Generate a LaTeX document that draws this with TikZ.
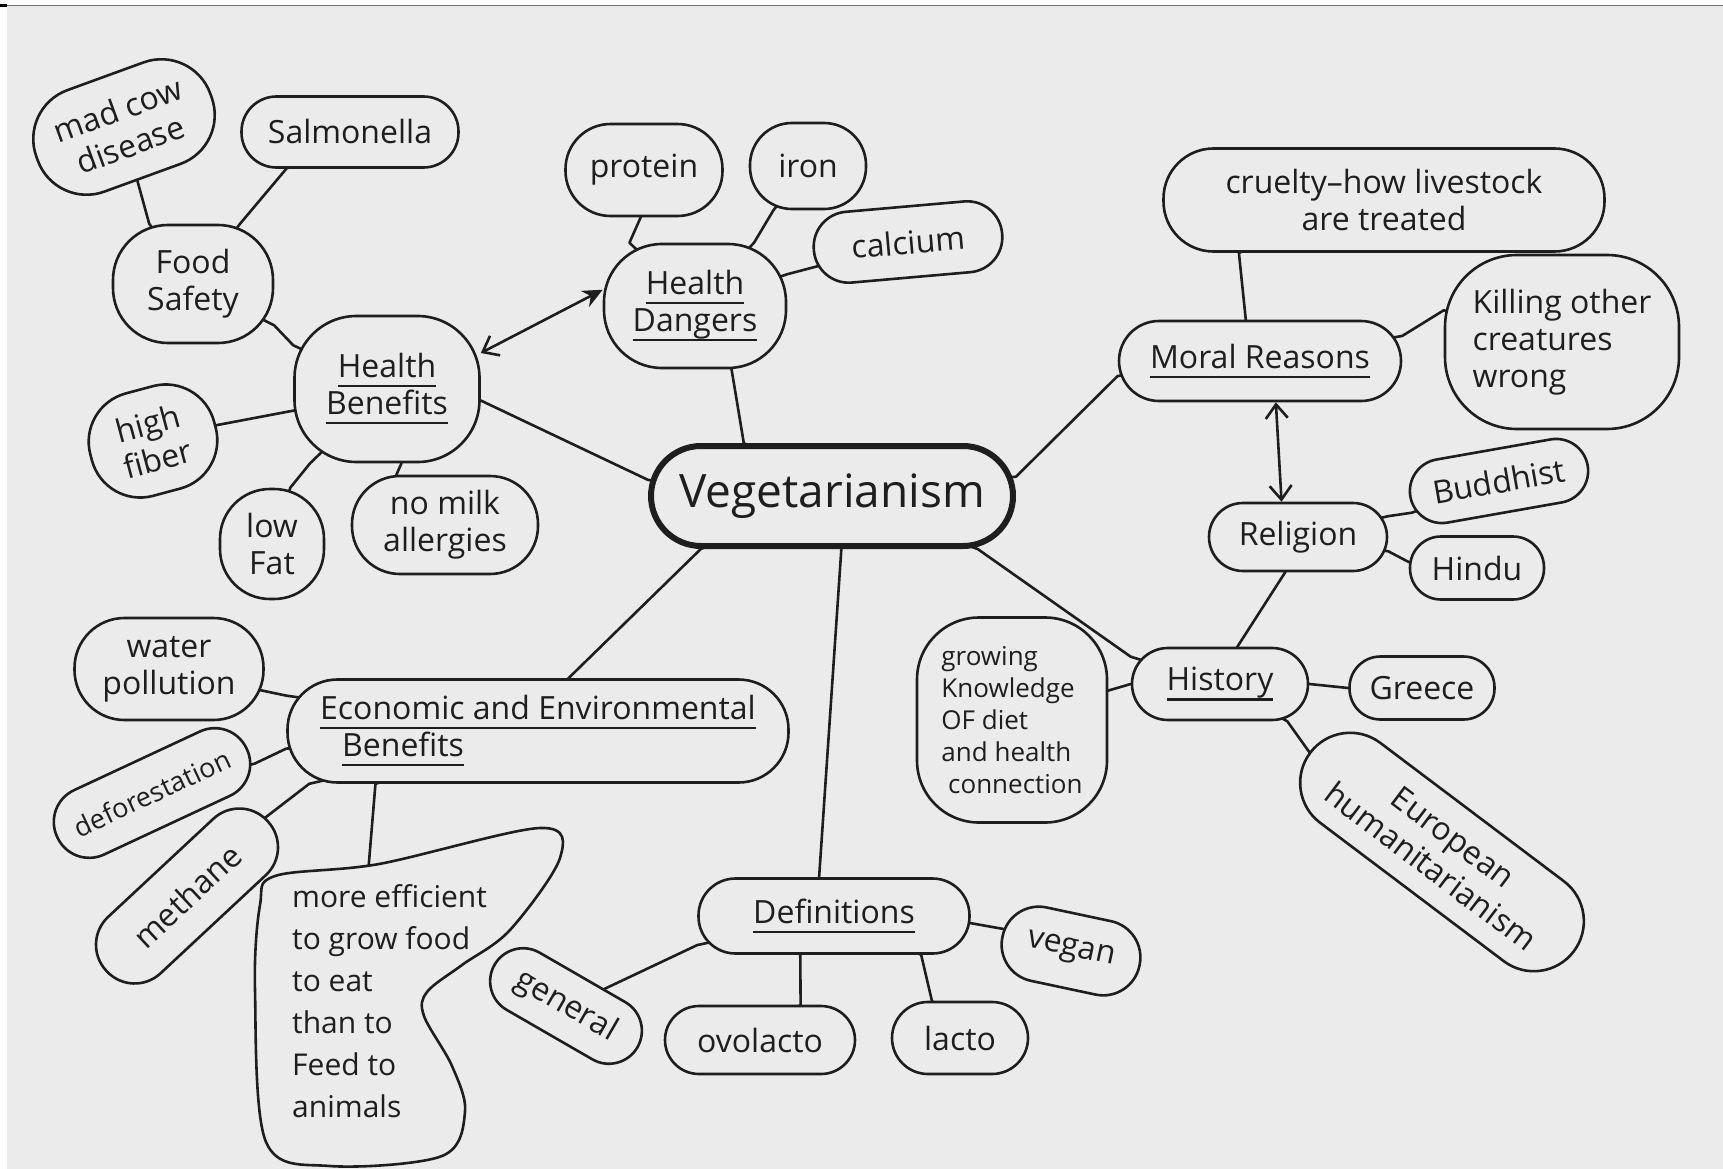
\documentclass[tikz,border=0pt]{standalone}
\usepackage{fontspec}
\setmainfont{Open Sans}
\usetikzlibrary{arrows.meta,calc}
\definecolor{bg}{HTML}{EBEBEB}
\definecolor{ink}{HTML}{1E1E1E}
\pgfdeclarelayer{edges}
\pgfsetlayers{edges,main}
\newcommand\fs{\fontsize{32}{37}\selectfont}
\newcommand\myul[1]{\begingroup\setbox0\hbox{#1}\rlap{\raisebox{-0.3em}{\rule{\wd0}{2.4pt}}}\box0\endgroup}
\newcommand\link[4]{\draw[conn] (#1.center) -- (#1.#2) -- (#3.#4) -- (#3.center);}
\tikzset{
  conn/.style={draw=ink, line width=2.6pt, line join=round},
  bub/.style={draw=ink, line width=2.6pt, fill=bg, rectangle, inner sep=0pt, align=center, font=\fs, text=ink},
  barb/.tip={Straight Barb[length=14pt,width=22pt,line width=2.6pt]},
  stl/.tip={Stealth[length=20pt,width=18pt]}
}
\begin{document}
\begin{tikzpicture}[x=1pt,y=-1pt]
\useasboundingbox (0,0) rectangle (1723,1169);
\begin{pgfonlayer}{edges}
\fill[white] (0,0) rectangle (1723,1169);
\fill[bg] (7,6) rectangle (1723,1169);
\draw[line width=1.6pt, draw=black!55] (7,5.5) -- (1723,5.5);
\fill[black] (0,4) rectangle (7,7);
\end{pgfonlayer}

% nodes
\node[bub, rotate=20, minimum width=185pt, minimum height=108pt, rounded corners=52pt] (madcow) at (124,127) {mad cow\\disease};
\node[bub, minimum width=217pt, minimum height=71pt, rounded corners=35pt] (salmon) at (350,132) {Salmonella};
\node[bub, minimum width=160pt, minimum height=118pt, rounded corners=55pt] (food) at (193,284) {Food\\Safety};
\node[bub, minimum width=185pt, minimum height=146pt, rounded corners=62pt] (hb) at (387,389) {\myul{Health}\\\myul{Benefits}};
\node[bub, rotate=15, minimum width=128pt, minimum height=106pt, rounded corners=50pt] (fiber) at (153,441) {high\\fiber};
\node[bub, minimum width=104pt, minimum height=110pt, rounded corners=50pt] (lowfat) at (272,544) {low\\Fat};
\node[bub, minimum width=186pt, minimum height=98pt, rounded corners=48pt] (nomilk) at (445,525) {no milk\\allergies};
\node[bub, minimum width=157pt, minimum height=92pt, rounded corners=45pt] (protein) at (644,170) {protein};
\node[bub, minimum width=116pt, minimum height=86pt, rounded corners=42pt] (iron) at (808,166) {iron};
\node[bub, rotate=5, minimum width=189pt, minimum height=71pt, rounded corners=35pt] (calcium) at (908,242) {calcium};
\node[bub, minimum width=182pt, minimum height=124pt, rounded corners=58pt] (hd) at (695,306) {\myul{Health}\\\myul{Dangers}};
\node[bub, minimum width=441pt, minimum height=103pt, rounded corners=50pt] (cruelty) at (1384,200) {cruelty--how livestock\\are treated};
\node[bub, minimum width=282pt, minimum height=80pt, rounded corners=40pt] (moral) at (1260,361) {\myul{Moral Reasons}};
\node[bub, align=left, minimum width=234pt, minimum height=174pt, rounded corners=72pt] (killing) at (1562,342) {Killing other\\creatures\\wrong};
\node[bub, minimum width=178pt, minimum height=68pt, rounded corners=34pt] (religion) at (1298,537) {Religion};
\node[bub, rotate=10, minimum width=180pt, minimum height=64pt, rounded corners=32pt] (buddhist) at (1499,481) {Buddhist};
\node[bub, minimum width=134pt, minimum height=63pt, rounded corners=31pt] (hindu) at (1477,568) {Hindu};
\node[bub, minimum width=176pt, minimum height=72pt, rounded corners=36pt] (history) at (1220,684) {\myul{History}};
\node[bub, minimum width=145pt, minimum height=63pt, rounded corners=31pt] (greece) at (1422,688) {Greece};
\node[bub, align=left, font=\fontsize{26}{32}\selectfont, minimum width=190pt, minimum height=205pt, rounded corners=62pt] (growing) at (1012,720) {growing\\Knowledge\\OF diet\\and health\\\ connection};
\node[bub, rotate=-37, minimum width=330pt, minimum height=100pt, rounded corners=50pt] (european) at (1442,852) {European\\humanitarianism};
\node[bub, align=left, minimum width=501pt, minimum height=103pt, rounded corners=50pt] (econ) at (538,731) {\myul{Economic and Environmental}\\\hspace*{22pt}\myul{Benefits}};
\node[bub, minimum width=189pt, minimum height=102pt, rounded corners=50pt] (water) at (169,669) {water\\pollution};
\node[bub, rotate=25, font=\fontsize{27}{32}\selectfont, minimum width=209pt, minimum height=71pt, rounded corners=35pt] (deforest) at (152,793) {deforestation};
\node[bub, rotate=43, minimum width=220pt, minimum height=77pt, rounded corners=38pt] (methane) at (187,896) {methane};
\node[bub, minimum width=271pt, minimum height=75pt, rounded corners=37pt] (defs) at (834,916) {\myul{Definitions}};
\node[bub, rotate=-12, minimum width=140pt, minimum height=75pt, rounded corners=37pt] (vegan) at (1071,951) {vegan};
\node[bub, rotate=-30, minimum width=165pt, minimum height=66pt, rounded corners=33pt] (general) at (566,1006) {general};
\node[bub, minimum width=190pt, minimum height=68pt, rounded corners=34pt] (ovolacto) at (760,1040) {ovolacto};
\node[bub, minimum width=136pt, minimum height=72pt, rounded corners=36pt] (lacto) at (960,1038) {lacto};
\node[bub, line width=6pt, font=\fontsize{46}{52}\selectfont, minimum width=362pt, minimum height=100pt, rounded corners=50pt] (veg) at (832,496) {Vegetarianism};

% irregular outline of the "more efficient" bubble
\draw[draw=ink, line width=2.6pt, fill=bg] plot[smooth cycle, tension=0.55] coordinates {(275,876) (379,864) (540,828) (560,858) (510,930) (462,965) (427,992) (424,1016) (452,1066) (465,1112) (442,1156) (330,1166) (266,1142) (255,990) (260,905)};
\node[align=left, font=\fontsize{30}{42}\selectfont, text=ink, inner sep=0pt, anchor=north west] (eff) at (292,884) {more efficient\\to grow food\\to eat\\than to\\Feed to\\animals};

% connectors
\begin{pgfonlayer}{edges}
\link{madcow}{-96}{food}{126}
\link{salmon}{-150}{food}{52}
\link{food}{-27}{hb}{155}
\link{fiber}{-1}{hb}{-167}
\link{lowfat}{72}{hb}{-136}
\link{nomilk}{134}{hb}{-79}
\link{hb}{-7}{veg}{175}
\link{protein}{-94}{hd}{136}
\link{iron}{-128}{hd}{47}
\link{calcium}{-170}{hd}{19}
\link{hd}{-60}{veg}{149}
\link{veg}{6}{moral}{-174}
\link{cruelty}{-160}{moral}{109}
\link{moral}{10}{killing}{165}
\link{religion}{13}{buddhist}{-170}
\link{religion}{-9}{hindu}{175}
\link{religion}{-110}{history}{65}
\link{veg}{-20}{history}{163}
\link{history}{180}{growing}{17}
\link{history}{0}{greece}{180}
\link{history}{-29}{european}{180}
\link{veg}{-158}{econ}{60}
\link{econ}{172}{water}{-13}
\link{econ}{-176}{deforest}{-9}
\link{econ}{-167}{methane}{2}
\draw[conn] (econ.center) -- (econ.-162) -- ($(eff.north west)!0.38!(eff.north east)+(0,12)$);
\link{veg}{-80}{defs}{111}
\link{defs}{-168}{general}{54}
\link{defs}{-131}{ovolacto}{41}
\link{defs}{-24}{lacto}{127}
\link{defs}{-3}{vegan}{174}
\end{pgfonlayer}

% double arrows
\draw[conn, {barb}-{stl}] (hb.21) -- (hd.170);
\draw[conn, {barb}-{barb}] (moral.-69) -- (religion.115);
\end{tikzpicture}
\end{document}
